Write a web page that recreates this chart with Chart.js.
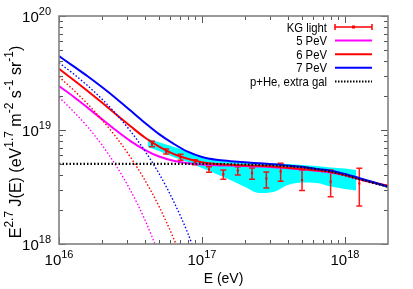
<!DOCTYPE html>
<html>
<head>
<meta charset="utf-8">
<script src="https://cdn.jsdelivr.net/npm/chart.js@4.4.0/dist/chart.umd.min.js"></script>
<style>
body{margin:0;background:#fff;}
canvas{display:block;}
</style>
</head>
<body>
<canvas id="myChart" width="413" height="289"></canvas>
<script>
// model curves, E in eV, E^2.7 J(E) in eV^1.7 m^-2 s^-1 sr^-1
const energy = [1e16, 1.259e16, 1.585e16, 1.995e16, 2.512e16, 3.162e16, 3.981e16, 5.012e16, 6.31e16, 7.943e16,
  1e17, 1.259e17, 1.585e17, 1.995e17, 2.512e17, 3.162e17, 3.981e17, 5.012e17, 6.31e17, 7.943e17,
  1e18, 1.259e18, 1.585e18, 2e18];

const pev5 = [2.43e19, 1.97e19, 1.57e19, 1.245e19, 9.9e18, 8.0e18, 6.7e18, 5.85e18, 5.38e18, 5.12e18,
  4.98e18, 4.91e18, 4.87e18, 4.83e18, 4.79e18, 4.72e18, 4.62e18, 4.51e18, 4.39e18, 4.24e18,
  4.0e18, 3.7e18, 3.44e18, 3.23e18];
const pev6 = [3.44e19, 2.76e19, 2.2e19, 1.74e19, 1.37e19, 1.08e19, 8.6e18, 7.15e18, 6.18e18, 5.6e18,
  5.22e18, 5.03e18, 4.95e18, 4.89e18, 4.85e18, 4.78e18, 4.66e18, 4.55e18, 4.43e18, 4.28e18,
  4.03e18, 3.72e18, 3.46e18, 3.25e18];
const pev7 = [4.45e19, 3.63e19, 2.96e19, 2.38e19, 1.89e19, 1.48e19, 1.16e19, 9.2e18, 7.6e18, 6.45e18,
  5.8e18, 5.48e18, 5.33e18, 5.21e18, 5.11e18, 5.01e18, 4.88e18, 4.75e18, 4.56e18, 4.4e18,
  4.12e18, 3.79e18, 3.48e18, 3.18e18];
// galactic parts (dotted)
const gal5 = [1.94e19, 1.46e19, 1.065e19, 7.4e18, 4.85e18, 2.95e18, 1.64e18, 8.1e17];
const gal6 = [2.93e19, 2.25e19, 1.69e19, 1.23e19, 8.63e18, 5.77e18, 3.64e18, 2.13e18, 1.13e18, 5.4e17];
const gal7 = [3.89e19, 3.12e19, 2.45e19, 1.87e19, 1.38e19, 9.78e18, 6.57e18, 4.14e18, 2.39e18, 1.25e18, 5.7e17];
const extraGal = [5.05e18, 5.05e18, 5.05e18, 5.05e18, 5.05e18, 5.05e18, 5.05e18, 5.05e18, 5.05e18, 5.05e18,
  5.05e18, 5.03e18, 5.0e18, 4.97e18, 4.93e18, 4.88e18, 4.82e18, 4.71e18, 4.53e18, 4.31e18,
  4.02e18, 3.7e18, 3.43e18, 3.18e18];

// KG light data
const kgE  = [4.47e16, 5.62e16, 7.08e16, 8.91e16, 1.12e17, 1.41e17, 1.78e17, 2.24e17, 2.82e17, 3.55e17, 5.01e17, 7.94e17, 1.26e18];
const kgJ  = [7.54e18, 6.45e18, 5.76e18, 5.27e18, 4.52e18, 4.09e18, 4.41e18, 4.2e18, 3.76e18, 4.33e18, 3.64e18, 3.52e18, 3.4e18];
const kgLo = [7.14e18, 6.15e18, 5.42e18, 4.96e18, 4.26e18, 3.7e18, 4.02e18, 3.7e18, 3.1e18, 3.56e18, 2.94e18, 2.6e18, 2.15e18];
const kgHi = [7.96e18, 6.81e18, 6.12e18, 5.49e18, 4.76e18, 4.46e18, 4.76e18, 4.64e18, 4.28e18, 5.1e18, 4.46e18, 4.46e18, 4.61e18];

// cyan band
const bandE  = [4.17e16, 5.01e16, 6.31e16, 7.94e16, 1e17, 1.26e17, 1.58e17, 2.0e17, 2.51e17, 3.16e17, 3.98e17, 5.01e17, 6.31e17, 7.94e17, 1e18, 1.2e18];
const bandHi = [8.42e18, 7.8e18, 7.12e18, 6.48e18, 5.8e18, 5.46e18, 5.29e18, 5.19e18, 5.13e18, 5.08e18, 5.03e18, 4.93e18, 4.83e18, 4.69e18, 4.6e18, 4.46e18];
const bandLo = [7.1e18, 6.54e18, 5.8e18, 5.24e18, 4.64e18, 4.11e18, 3.64e18, 3.16e18, 2.8e18, 2.86e18, 3.29e18, 3.46e18, 3.43e18, 3.19e18, 3.04e18, 2.95e18];

const xMajor = [1e16, 1e17, 1e18];
const xMajorLabels = ['16', '17', '18'];
const yMajor = [1e18, 1e19, 1e20];
const yMajorLabels = ['18', '19', '20'];

const legendNames = ['KG light', '5 PeV', '6 PeV', '7 PeV', 'p+He, extra gal'];
const legendColors = ['#ff0000', '#ff00ff', '#ff0000', '#0000ff', '#000000'];

const FONT = '"Liberation Sans", Arial, sans-serif';

function pts(xs, ys) {
  return xs.map((e, i) => ({x: e, y: ys[i] === undefined ? null : ys[i]}));
}

function richText(ctx, parts, x, y, align, size, supSize) {
  let w = 0;
  parts.forEach(p => {
    ctx.font = (p[1] ? supSize : size) + 'px ' + FONT;
    w += ctx.measureText(p[0]).width;
  });
  let cx = align === 'center' ? x - w / 2 : (align === 'right' ? x - w : x);
  ctx.textAlign = 'left';
  ctx.textBaseline = 'alphabetic';
  parts.forEach(p => {
    ctx.font = (p[1] ? supSize : size) + 'px ' + FONT;
    ctx.fillText(p[0], cx, p[1] ? y - size * 0.47 : y);
    cx += ctx.measureText(p[0]).width;
  });
}

const errorBars = {
  id: 'errorBars',
  afterDatasetDraw(chart, args) {
    if (args.index !== 1) return;
    const {ctx, scales: {x, y}} = chart;
    ctx.save();
    ctx.strokeStyle = 'rgba(255,0,0,0.9)';
    ctx.lineWidth = 1.5;
    kgE.forEach((e, i) => {
      const px = x.getPixelForValue(e);
      const p1 = y.getPixelForValue(kgLo[i]);
      const p2 = y.getPixelForValue(kgHi[i]);
      ctx.beginPath();
      ctx.moveTo(px, p1); ctx.lineTo(px, p2);
      ctx.moveTo(px - 3, p1); ctx.lineTo(px + 3, p1);
      ctx.moveTo(px - 3, p2); ctx.lineTo(px + 3, p2);
      ctx.stroke();
    });
    ctx.restore();
  }
};

const frame = {
  id: 'frame',
  afterDraw(chart) {
    const {ctx, chartArea: a, scales: {x, y}} = chart;
    ctx.save();
    // ticks
    ctx.strokeStyle = '#555';
    ctx.lineWidth = 1;
    ctx.beginPath();
    xMajor.forEach(d => {
      for (let m = 1; m <= 9; m++) {
        const v = d * m;
        if (v > 1.99e18) continue;
        const px = Math.round(x.getPixelForValue(v)) + 0.5;
        const len = m === 1 ? 7 : 4;
        ctx.moveTo(px, a.bottom); ctx.lineTo(px, a.bottom - len);
        ctx.moveTo(px, a.top); ctx.lineTo(px, a.top + len);
      }
    });
    yMajor.forEach(d => {
      for (let m = 1; m <= 9; m++) {
        const v = d * m;
        if (v > 1e20) continue;
        const py = Math.round(y.getPixelForValue(v)) + 0.5;
        const len = m === 1 ? 7 : 4;
        ctx.moveTo(a.left, py); ctx.lineTo(a.left + len, py);
        ctx.moveTo(a.right, py); ctx.lineTo(a.right - len, py);
      }
    });
    ctx.stroke();
    // border
    ctx.strokeStyle = '#808080';
    ctx.lineWidth = 1.6;
    ctx.strokeRect(a.left, a.top, a.right - a.left, a.bottom - a.top);

    ctx.fillStyle = '#000';
    // tick labels
    xMajor.forEach((v, i) => {
      richText(ctx, [['10', false], [xMajorLabels[i], true]], x.getPixelForValue(v), a.bottom + 21, 'center', 15, 11);
    });
    yMajor.forEach((v, i) => {
      richText(ctx, [['10', false], [yMajorLabels[i], true]], 51, y.getPixelForValue(v) + 6, 'right', 15, 11);
    });
    // axis titles
    richText(ctx, [['E (eV)', false]], (a.left + a.right) / 2, 283, 'center', 14, 10);
    ctx.save();
    ctx.translate(21, 142);
    ctx.rotate(-Math.PI / 2);
    richText(ctx, [['E', false], ['2.7', true], [' J(E) (eV', false], ['1.7', true], [' m', false], ['-2', true],
      [' s', false], ['-1', true], [' sr', false], ['-1', true], [')', false]], 0, 0, 'center', 16, 12);
    ctx.restore();

    // legend
    legendNames.forEach((name, i) => {
      const cy = 27 + i * 13.6;
      ctx.save();
      ctx.translate(327, cy + 4.5);
      ctx.scale(0.87, 1);
      ctx.font = '13px ' + FONT;
      ctx.textAlign = 'right';
      ctx.fillStyle = '#000';
      ctx.fillText(name, 0, 0);
      ctx.restore();
      ctx.strokeStyle = legendColors[i];
      ctx.beginPath();
      if (i === 0) {
        ctx.lineWidth = 1.5;
        ctx.moveTo(335, cy); ctx.lineTo(372, cy);
        ctx.moveTo(335, cy - 3); ctx.lineTo(335, cy + 3);
        ctx.moveTo(372, cy - 3); ctx.lineTo(372, cy + 3);
        ctx.stroke();
        ctx.fillStyle = legendColors[i];
        ctx.fillRect(352, cy - 1.5, 3, 3);
      } else if (i === 4) {
        ctx.lineWidth = 2;
        ctx.setLineDash([1.5, 1.5]);
        ctx.moveTo(335, cy); ctx.lineTo(372, cy);
        ctx.stroke();
        ctx.setLineDash([]);
      } else {
        ctx.lineWidth = 2;
        ctx.moveTo(335, cy); ctx.lineTo(372, cy);
        ctx.stroke();
      }
    });
    ctx.restore();
  }
};

const solid = (label, ys, color, order) => ({
  label: label, data: pts(energy, ys), borderColor: color, borderWidth: 2,
  pointRadius: 0, fill: false, cubicInterpolationMode: 'monotone', order: order
});
const dotted = (label, ys, color, width, order) => ({
  label: label, data: pts(energy, ys), borderColor: color, borderWidth: width,
  borderDash: [1.5, 2], pointRadius: 0, fill: false, cubicInterpolationMode: 'monotone',
  spanGaps: false, order: order
});

const config = {
  type: 'line',
  data: {
    datasets: [
      {label: 'band hi', data: pts(bandE, bandHi), borderWidth: 0, pointRadius: 0,
       backgroundColor: '#00ffff', borderColor: '#00ffff', fill: '+1', cubicInterpolationMode: 'monotone', order: 30},
      {label: 'band lo', data: pts(bandE, bandLo), borderWidth: 0, pointRadius: 0,
       backgroundColor: '#00ffff', borderColor: '#00ffff', fill: false, cubicInterpolationMode: 'monotone', order: 29},
      {label: 'KG light', data: pts(kgE, kgJ), showLine: false, pointStyle: 'rect', pointRadius: 1.5,
       pointBackgroundColor: '#ff0000', pointBorderColor: '#ff0000', pointBorderWidth: 0, order: 28},
      solid('5 PeV', pev5, '#ff00ff', 8),
      solid('6 PeV', pev6, '#ff0000', 7),
      solid('7 PeV', pev7, '#0000ff', 6),
      dotted('5 PeV gal', gal5, '#ff00ff', 1.4, 5),
      dotted('6 PeV gal', gal6, '#ff0000', 1.4, 4),
      dotted('7 PeV gal', gal7, '#0000ff', 1.4, 3),
      dotted('p+He, extra gal', extraGal, '#000000', 2.2, 1)
    ]
  },
  options: {
    responsive: false,
    animation: false,
    layout: {padding: {top: 16, right: 25, left: 0, bottom: 0}},
    plugins: {legend: {display: false}, tooltip: {enabled: false}},
    scales: {
      x: {
        type: 'logarithmic', min: 1e16, max: 2e18,
        ticks: {display: false}, grid: {display: false}, border: {display: false},
        afterFit(s) { s.height = 45; }
      },
      y: {
        type: 'logarithmic', min: 1e18, max: 1e20,
        ticks: {display: false}, grid: {display: false}, border: {display: false},
        afterFit(s) { s.width = 59; }
      }
    }
  },
  plugins: [errorBars, frame]
};

const ctx = document.getElementById('myChart').getContext('2d');
const myChart = new Chart(ctx, config);
</script>
</body>
</html>
